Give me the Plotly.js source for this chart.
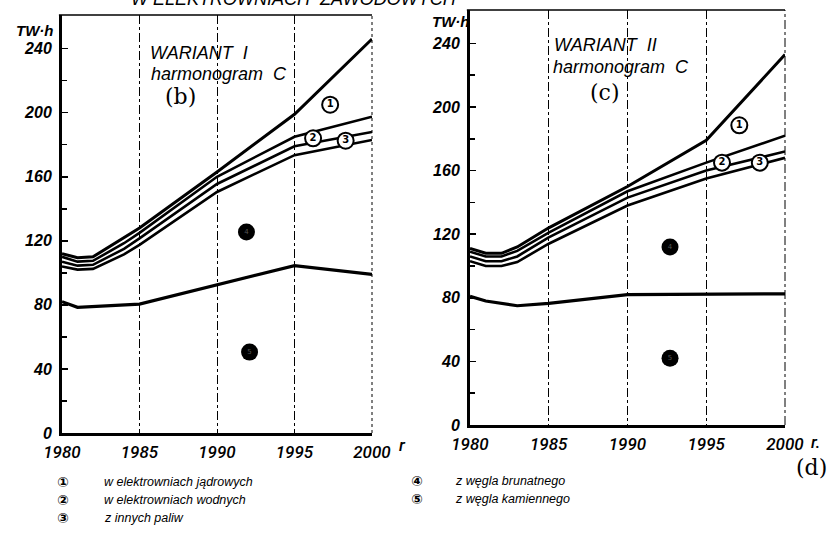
<!DOCTYPE html>
<html><head><meta charset="utf-8">
<script src="https://cdn.plot.ly/plotly-3.0.1.min.js"></script>
<style>html,body{margin:0;padding:0;background:#fff}#chart{width:833px;height:535px}</style>
</head><body><div id="chart"></div>
<script>
// ---- Data: Wariant I (cumulative levels, TW·h) ----
const yearsA = [1980, 1981, 1982, 1984, 1985, 1990, 1995, 2000];
const w1_nuclear = [112, 109.5, 110, 122, 128, 163, 199, 246];
const w1_hydro   = [110, 107, 107.5, 118.5, 125, 160, 185, 197.5];
const w1_other   = [107, 104.5, 105, 115, 121.5, 155.5, 179, 188];
const w1_brown   = [104, 102, 102.5, 111.5, 117.5, 150.5, 173.5, 183];
const yearsA5    = [1980, 1981, 1985, 1990, 1995, 2000];
const w1_hard    = [82, 78.5, 80.5, 92.5, 104.5, 99];

// ---- Data: Wariant II ----
const yearsB = [1980, 1981, 1982, 1983, 1985, 1990, 1995, 2000];
const w2_nuclear = [111, 108, 108, 112, 124, 150, 179, 233];
const w2_hydro   = [109, 106, 106, 109.5, 121, 147, 165, 182];
const w2_other   = [106, 103, 103, 106, 118, 143, 160, 172];
const w2_brown   = [103, 100, 100, 102.5, 114, 138, 155, 168];
const yearsB5    = [1980, 1981, 1983, 1985, 1990, 1995, 2000];
const w2_hard    = [81, 78, 75, 76.5, 82, 82.5, 82.5];

// ---- Ticks ----
const xTickVals = [1980, 1985, 1990, 1995, 2000];
const xTickText = ['1980', '1985', '1990', '1995', '2000'];
const yTickVals = [0, 40, 80, 120, 160, 200, 240];
const yTickText = ['0', '40', '80', '120', '160', '200', '240'];
const yMinorVals = [20, 60, 100, 140, 180, 220];

// ---- Legend ----
const legendNums  = ['①', '②', '③', '④', '⑤'];
const legendTexts = ['w elektrowniach jądrowych', 'w elektrowniach wodnych', 'z innych paliw',
                     'z węgla brunatnego', 'z węgla kamiennego'];

// ---- Region labels (band numbers) ----
const openLabels = ['1', '2', '3'];
const w1OpenX = [1997.3, 1996.2, 1998.3], w1OpenY = [205, 184, 182.5];
const w2OpenX = [1997.1, 1996.0, 1998.4], w2OpenY = [188.5, 165, 165];
const solidLabels = ['4', '5'];
const w1SolidX = [1991.9, 1992.1], w1SolidY = [125.5, 50.5];
const w2SolidX = [1992.7, 1992.7], w2SolidY = [112, 42];

const W = 833, H = 535;
const px = x => x / W, py = y => 1 - y / H;

function line(x, y, xa, ya, w) {
  return {x: x, y: y, xaxis: xa, yaxis: ya, type: 'scatter', mode: 'lines',
          line: {color: '#000', width: w}, hoverinfo: 'skip', showlegend: false};
}
function openMarks(x, y, xa, ya) {
  return {x: x, y: y, text: openLabels, xaxis: xa, yaxis: ya, type: 'scatter', mode: 'markers+text',
          marker: {size: 16, color: '#fff', line: {color: '#000', width: 2}},
          textposition: 'middle center', textfont: {family: 'DejaVu Sans', size: 10, color: '#000', weight: 'bold'},
          hoverinfo: 'skip', showlegend: false};
}
function solidMarks(x, y, xa, ya) {
  return {x: x, y: y, text: solidLabels, xaxis: xa, yaxis: ya, type: 'scatter', mode: 'markers+text',
          marker: {size: 17, color: '#000'}, textposition: 'middle center',
          textfont: {family: 'DejaVu Sans', size: 7, color: '#555'},
          hoverinfo: 'skip', showlegend: false};
}

const traces = [
  line(yearsA, w1_nuclear, 'x', 'y', 3),
  line(yearsA, w1_hydro, 'x', 'y', 2.6),
  line(yearsA, w1_other, 'x', 'y', 2.6),
  line(yearsA, w1_brown, 'x', 'y', 2.6),
  line(yearsA5, w1_hard, 'x', 'y', 3.2),
  openMarks(w1OpenX, w1OpenY, 'x', 'y'),
  solidMarks(w1SolidX, w1SolidY, 'x', 'y'),
  line(yearsB, w2_nuclear, 'x2', 'y2', 3),
  line(yearsB, w2_hydro, 'x2', 'y2', 2.6),
  line(yearsB, w2_other, 'x2', 'y2', 2.6),
  line(yearsB, w2_brown, 'x2', 'y2', 2.6),
  line(yearsB5, w2_hard, 'x2', 'y2', 3.2),
  openMarks(w2OpenX, w2OpenY, 'x2', 'y2'),
  solidMarks(w2SolidX, w2SolidY, 'x2', 'y2')
];

const xTickFont = {family: 'Roboto', size: 17, color: '#000', style: 'italic', weight: 500};
const yTickFont = {family: 'Liberation Sans', size: 16, color: '#000', style: 'italic', weight: 'bold'};

function xax(domain, anchor) {
  return {domain: domain, anchor: anchor, range: [1980, 2000], tickmode: 'array',
          tickvals: xTickVals, ticktext: xTickText, showgrid: true, gridcolor: '#000',
          griddash: 'dashdot', gridwidth: 1, showline: true, linecolor: '#000', linewidth: 2.5,
          ticks: '', zeroline: false, tickfont: xTickFont, ticklabelstandoff: 2, fixedrange: true};
}
function yax(domain, anchor) {
  return {domain: domain, anchor: anchor, range: [0, 261], tickmode: 'array',
          tickvals: yTickVals, ticktext: yTickText, showgrid: false, zeroline: false,
          showline: true, linecolor: '#000', linewidth: 3, ticks: 'inside', ticklen: 6,
          tickwidth: 1.5, tickcolor: '#000',
          minor: {tickmode: 'array', tickvals: yMinorVals, ticks: 'inside', ticklen: 5, tickwidth: 1.5, tickcolor: '#000', showgrid: false},
          tickfont: yTickFont, ticklabelstandoff: 4, fixedrange: true};
}

const ital = (size, fam) => ({family: fam || 'Liberation Sans', size: size, color: '#000', style: 'italic'});
const serif = {family: 'DejaVu Serif', size: 22, color: '#000'};

function ann(text, x, y, font, xanchor) {
  return {text: text, x: px(x), y: py(y), xref: 'paper', yref: 'paper', showarrow: false,
          xanchor: xanchor || 'center', yanchor: 'middle', font: font};
}

const annotations = [
  ann('W ELEKTROWNIACH  ZAWODOWYCH', 294, -1, ital(18)),
  ann('TW·h', 34, 30, {...ital(15), weight: 'bold'}),
  ann('TW·h', 451, 21, {...ital(15), weight: 'bold'}),
  ann('WARIANT  I', 148, 53, ital(18), 'left'),
  ann('harmonogram\u00a0\u00a0C', 149, 74, ital(18), 'left'),
  ann('WARIANT  II', 552, 45, ital(18), 'left'),
  ann('harmonogram\u00a0\u00a0C', 551, 67, ital(18), 'left'),
  ann('(b)', 180, 97, serif),
  ann('(c)', 605, 92, serif),
  ann('(d)', 811, 467, serif),
  ann('r', 402, 445, xTickFont),
  ann('r.', 815, 442, xTickFont)
];
const legendPos = [[63, 102, 482], [63, 102, 500], [63, 102, 518], [417, 453, 481], [417, 453, 499]];
legendNums.forEach((n, i) => {
  const p = legendPos[i];
  annotations.push(ann(n, p[0], p[2], {family: 'DejaVu Sans', size: 14, color: '#000', weight: 'bold'}));
  annotations.push(ann(legendTexts[i], p[1], p[2], ital(12.5), 'left'));
});

const shapes = [
  {type: 'line', xref: 'x domain', yref: 'y domain', x0: -0.01, x1: 1, y0: 1, y1: 1, line: {color: '#000', width: 1.5}},
  {type: 'line', xref: 'x2 domain', yref: 'y2 domain', x0: -0.01, x1: 1, y0: 1, y1: 1, line: {color: '#000', width: 1.5}},
  {type: 'line', xref: 'x domain', yref: 'y domain', x0: 1, x1: 1, y0: 0, y1: 1, line: {color: '#000', width: 1, dash: 'dot'}},
  {type: 'line', xref: 'x2 domain', yref: 'y2 domain', x0: 1, x1: 1, y0: 0, y1: 1, line: {color: '#000', width: 1, dash: 'dashdot'}}
];

const layout = {
  width: W, height: H, margin: {l: 0, r: 0, t: 0, b: 0},
  paper_bgcolor: '#fff', plot_bgcolor: '#fff', showlegend: false,
  xaxis: xax([px(62), px(372)], 'y'),
  yaxis: yax([1 - 433 / H, 1 - 15 / H], 'x'),
  xaxis2: xax([px(470), px(785)], 'y2'),
  yaxis2: yax([1 - 425 / H, 1 - 10 / H], 'x2'),
  annotations: annotations, shapes: shapes
};

Plotly.newPlot('chart', traces, layout, {displayModeBar: false, staticPlot: true});
</script></body></html>
